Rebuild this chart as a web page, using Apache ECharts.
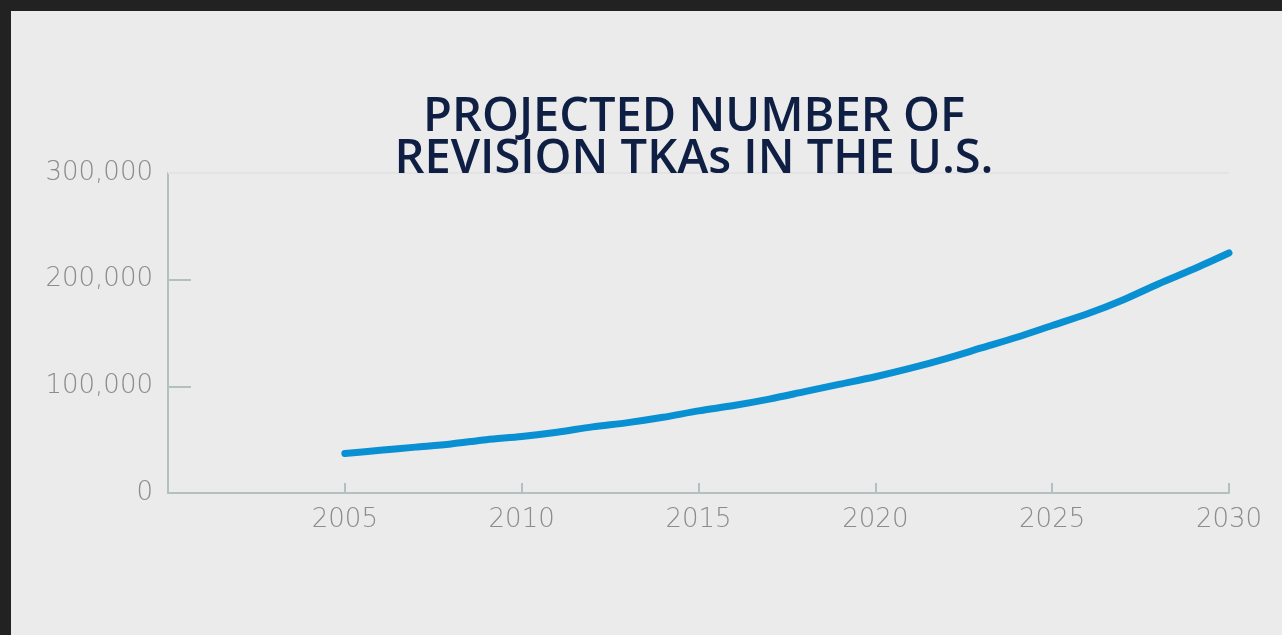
<!DOCTYPE html>
<html>
<head>
<meta charset="utf-8">
<script src="https://cdn.jsdelivr.net/npm/echarts@6/dist/echarts.min.js"></script>
<style>
  html, body { margin: 0; padding: 0; background: #222222; width: 1282px; height: 635px; overflow: hidden; }
  #chart { position: absolute; left: 11px; top: 11px; width: 1271px; height: 624px; }
</style>
</head>
<body>
<div id="chart"></div>
<script>
// Projected revision TKA procedures per year in the U.S.
const years = [2005, 2006, 2007, 2008, 2009, 2010, 2011, 2012, 2013, 2014, 2015, 2016, 2017,
               2018, 2019, 2020, 2021, 2022, 2023, 2024, 2025, 2026, 2027, 2028, 2029, 2030];
const revisions = [37000, 40000, 43000, 46000, 50000, 53000, 57000, 62000, 66000, 71000, 77000, 82000, 88000,
                   95000, 102000, 109000, 117000, 126000, 136000, 146000, 157000, 168000, 181000, 196000, 210000, 225000];
const titleLines = ['PROJECTED NUMBER OF', 'REVISION TKAs IN THE U.S.'];
const yTicks = [0, 100000, 200000, 300000];

const axisColor = '#b3c0c0';
const labelColor = '#8c8c8c';
const labelFont = 'DejaVu Sans';

const chart = echarts.init(document.getElementById('chart'), null, { renderer: 'canvas' });
chart.setOption({
  backgroundColor: '#ebebeb',
  animation: false,
  title: {
    text: titleLines.join('\n'),
    left: 678,
    top: 81,
    textAlign: 'center',
    textStyle: {
      color: '#0f1f44',
      fontFamily: 'Open Sans',
      fontWeight: 600,
      fontSize: 47,
      lineHeight: 42
    }
  },
  grid: { left: 157, right: 53, top: 162, bottom: 142 },
  xAxis: {
    type: 'value',
    min: 2000,
    max: 2030,
    interval: 5,
    axisLine: { show: true, lineStyle: { color: axisColor, width: 2 } },
    axisTick: { show: true, inside: true, length: 10, lineStyle: { color: axisColor, width: 2 } },
    splitLine: { show: false },
    axisLabel: {
      margin: 14,
      color: labelColor,
      fontFamily: labelFont,
      fontWeight: 200,
      fontSize: 26,
      formatter: v => (v === 2000 ? '' : String(v))
    }
  },
  yAxis: {
    type: 'value',
    min: yTicks[0],
    max: yTicks[yTicks.length - 1],
    interval: 100000,
    axisLine: { show: true, lineStyle: { color: axisColor, width: 2 } },
    axisTick: { show: true, inside: true, length: 23, lineStyle: { color: axisColor, width: 2 } },
    splitLine: { show: false },
    axisLabel: {
      margin: 15,
      color: labelColor,
      fontFamily: labelFont,
      fontWeight: 200,
      fontSize: 26,
      formatter: v => v.toLocaleString('en-US')
    }
  },
  series: [{
    type: 'line',
    data: years.map((y, i) => [y, revisions[i]]),
    smooth: 0.3,
    showSymbol: false,
    lineStyle: { color: '#0990d2', width: 7, cap: 'round' },
    markLine: {
      silent: true,
      symbol: 'none',
      label: { show: false },
      lineStyle: { color: '#e3e3e3', width: 2, type: 'solid' },
      data: [{ yAxis: yTicks[yTicks.length - 1] }]
    }
  }]
});
</script>
</body>
</html>
